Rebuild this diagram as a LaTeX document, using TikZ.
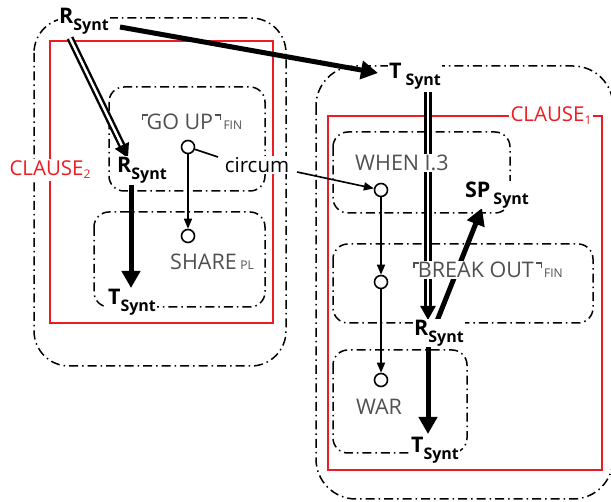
\documentclass[tikz,border=0pt]{standalone}
\usepackage{fontspec}
\setmainfont{Open Sans}
\usetikzlibrary{arrows.meta,backgrounds}
\definecolor{clred}{RGB}{237,28,36}
\definecolor{lexgray}{RGB}{80,80,80}
\newcommand\synt[2][0pt]{\textbf{#2}\hspace{#1}\raisebox{-.32em}{\fontsize{16}{17}\selectfont\bfseries Synt}}
\newcommand\subfin[1]{{\fontsize{12}{13}\selectfont #1}}
\newcommand\ulcorn{\rlap{\rule[.64em]{.28em}{.07em}}\rule[.44em]{.07em}{.27em}\hspace{.15em}}
\newcommand\urcorn{\hspace{.1em}\rule[.64em]{.28em}{.07em}\llap{\rule[.44em]{.07em}{.27em}}\hspace{.1em}}

\begin{document}
\begin{tikzpicture}[x=1pt,y=-1pt,line join=round,
    box/.style={line width=1.5pt,dash pattern=on 9pt off 4pt on 1.5pt off 4pt,rounded corners=#1},
    box/.default=15pt,
    clause/.style={draw=clred,line width=2.3pt},
    role/.style={fill=white,inner sep=1pt,font=\fontsize{21.5}{22}\selectfont},
    lex/.style={fill=white,inner sep=1pt,text=lexgray,font=\fontsize{21.5}{22}\selectfont},
    clabel/.style={fill=white,inner sep=2pt,text=clred,font=\fontsize{20.5}{21}\selectfont},
    knot/.style={circle,draw,fill=white,line width=1.6pt,minimum size=13pt,inner sep=0pt},
    deparrow/.style={line width=1.6pt,-{Triangle[length=10pt,width=8pt]}},
    synarrow/.style={line width=5pt,-{Triangle[length=17pt,width=18pt]}},
    dblarrow/.style={double,double distance=2.4pt,line width=2.4pt,-{Triangle[length=14pt,width=15pt]}}]
\useasboundingbox (0,0) rectangle (611,502);

% syntactic roles
\node[role] (rtop) at (84,21) {\synt{R}};
\node[role] (tright) at (415,76) {\synt[4pt]{T}};
\node[role] (rleft) at (142,170) {\synt{R}};
\node[role] (tleft) at (132,302) {\synt{T}};
\node[role] (rright) at (439,333) {\synt{R}};
\node[role] (tbot) at (435,450) {\synt{T}};
\node[role] (sp) at (497,195) {\synt[3pt]{SP}};

% lexemes
\node[lex] (goup) at (192,122) {\ulcorn GO UP\urcorn\subfin{FIN}};
\node[lex] (share) at (212,262) {SHARE\,\subfin{PL}};
\node[lex] (when) at (402,163) {WHEN I.3};
\node[lex] (break) at (488,270) {\ulcorn BREAK OUT\urcorn\subfin{FIN}};
\node[lex] (war) at (379,407) {WAR};
\node[fill=white,inner sep=1pt,font=\fontsize{20.5}{21}\selectfont] (circum) at (257,165) {circum};

\node[clabel] (cl2) at (50,170) {CLAUSE\raisebox{-.15em}{\subfin{2}}};
\node[clabel] (cl1) at (551,116) {CLAUSE\raisebox{-.15em}{\subfin{1}}};

\foreach \n/\x/\y in {c1/188/147,c2/188/236,c3/381/190,c4/381/282,c5/381/380}
  \node[knot] (\n) at (\x,\y) {};

\begin{pgfonlayer}{background}
  \draw[box=35pt] (34,18) rectangle (286,366);
  \draw[box=40pt] (316,66) rectangle (613,499);
  \draw[box] (109,87) rectangle (265,191);
  \draw[box] (94,212) rectangle (265,307);
  \draw[box] (333,132) rectangle (510,213);
  \draw[box] (333,244) rectangle (593,323);
  \draw[box] (333,350) rectangle (467,453);
  \draw[clause] (50,41) rectangle (273,323);
  \draw[clause] (328,116) rectangle (602,470);

  \draw[synarrow] ([shift={(36,6)}]rtop.center) -- ([shift={(-37,-3)}]tright.center);
  \draw[dblarrow] ([shift={(-14,17)}]rtop.center) -- ([shift={(-14,-12)}]rleft.center);
  \draw[synarrow] ([shift={(-11,15)}]rleft.center) -- ([shift={(-1,-14)}]tleft.center);
  \draw[dblarrow] ([shift={(13,16)}]tright.center) -- ([shift={(-11,-13)}]rright.center);
  \draw[synarrow] ([shift={(-11,13)}]rright.center) -- ([shift={(-7,-16)}]tbot.center);
  \draw[synarrow] ([shift={(-2,-12)}]rright.center) -- ([shift={(-15,13)}]sp.center);

  \draw[deparrow] (c1) -- (c2);
  \draw[line width=1.6pt] (c1) -- ([shift={(-39,-8)}]circum.center);
  \draw[deparrow] ([shift={(40,7)}]circum.center) -- (c3);
  \draw[deparrow] (c3) -- (c4);
  \draw[deparrow] (c4) -- (c5);
\end{pgfonlayer}
\end{tikzpicture}
\end{document}
